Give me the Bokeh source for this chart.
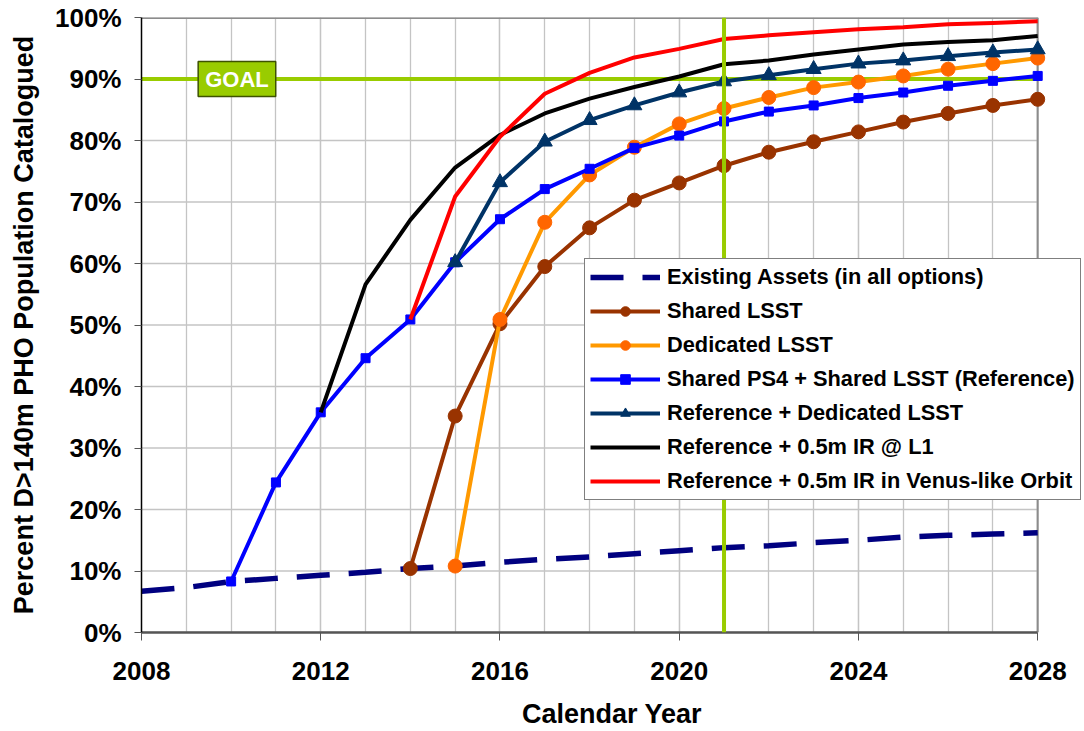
from bokeh.plotting import figure
from bokeh.models import FixedTicker, PrintfTickFormatter, Legend, LegendItem, Label, Span, BasicTickFormatter
from bokeh.embed import file_html
from bokeh.resources import INLINE

# ---------------- data (percent of D>140m PHO population catalogued) ----------------
years_existing = list(range(2008, 2029))
existing_assets = [6.7, 7.3, 8.3, 8.8, 9.3, 9.8, 10.4, 10.8, 11.4, 11.9, 12.3, 12.8,
                   13.3, 13.8, 14.1, 14.6, 15.0, 15.5, 15.8, 16.0, 16.2]

years_shared_lsst = list(range(2014, 2029))
shared_lsst = [10.4, 35.2, 50.2, 59.5, 65.8, 70.3, 73.1, 75.9, 78.1, 79.8, 81.4, 83.0,
               84.4, 85.7, 86.7]

years_dedicated_lsst = list(range(2015, 2029))
dedicated_lsst = [10.8, 50.9, 66.7, 74.4, 78.9, 82.7, 85.2, 87.0, 88.6, 89.5, 90.5,
                  91.6, 92.5, 93.4]

years_reference = list(range(2010, 2029))
reference = [8.3, 24.4, 35.8, 44.6, 50.9, 60.2, 67.2, 72.1, 75.4, 78.8, 80.8, 83.1,
             84.7, 85.7, 86.9, 87.8, 88.9, 89.7, 90.5]

years_ref_dedicated = list(range(2015, 2029))
ref_dedicated = [60.2, 73.2, 79.8, 83.3, 85.7, 87.8, 89.6, 90.6, 91.6, 92.5, 93.0,
                 93.7, 94.3, 94.8]

years_ref_l1 = list(range(2012, 2029))
ref_l1 = [35.8, 56.6, 67.1, 75.6, 80.9, 84.4, 86.8, 88.7, 90.4, 92.4, 93.0, 94.0,
          94.8, 95.6, 96.0, 96.3, 97.0]

years_ref_venus = list(range(2014, 2029))
ref_venus = [50.9, 70.9, 80.6, 87.6, 91.0, 93.5, 94.9, 96.5, 97.1, 97.6, 98.1, 98.4,
             98.9, 99.1, 99.4]

goal_pct = 90
goal_year = 2021
x_start, x_end = 2008, 2028
x_major_ticks = [2008, 2012, 2016, 2020, 2024, 2028]
y_ticks = [0, 10, 20, 30, 40, 50, 60, 70, 80, 90, 100]

labels = ["Existing Assets (in all options)", "Shared LSST", "Dedicated LSST",
          "Shared PS4 + Shared LSST (Reference)", "Reference + Dedicated LSST",
          "Reference + 0.5m IR @ L1", "Reference + 0.5m IR in Venus-like Orbit"]

# ---------------- figure ----------------
FONT = "Liberation Sans"
GREEN = "#99CC00"
GRID = "#C4C4C4"

# frame extends past 2028 so the legend (which overhangs the plot area) is not clipped
p = figure(width=1084, height=731, output_backend="svg", toolbar_location=None,
           x_range=(x_start, x_end + 1.0), y_range=(0, 100),
           min_border_left=141, min_border_right=2, min_border_top=17, min_border_bottom=97)
p.outline_line_color = None
p.background_fill_color = "white"
p.border_fill_color = "white"

# axes
p.xaxis.ticker = FixedTicker(ticks=x_major_ticks, minor_ticks=list(range(x_start, x_end + 1)))
p.xaxis.formatter = BasicTickFormatter(use_scientific=False)
p.xaxis.bounds = (x_start, x_end)
p.yaxis.ticker = FixedTicker(ticks=y_ticks, minor_ticks=[])
p.yaxis.formatter = PrintfTickFormatter(format="%d%%")

for ax in (p.xaxis[0], p.yaxis[0]):
    ax.major_label_text_font = FONT
    ax.major_label_text_font_style = "bold"
    ax.major_label_text_font_size = "26px"
    ax.major_label_text_color = "black"
    ax.axis_label_text_font = FONT
    ax.axis_label_text_font_style = "bold"
    ax.axis_label_text_font_size = "27px"
    ax.axis_label_text_color = "black"
    ax.minor_tick_line_color = None
    ax.major_tick_in = 0

p.xaxis.axis_label = "Calendar Year"
p.xaxis.axis_line_color = "#555555"
p.xaxis.axis_line_width = 2.5
p.xaxis.major_tick_line_color = "#555555"
p.xaxis.major_tick_out = 8
p.xaxis.major_label_standoff = 21
p.xaxis.axis_label_standoff = 16

p.yaxis.axis_label = "Percent D>140m PHO Population Catalogued"
p.yaxis.axis_line_color = "black"
p.yaxis.axis_line_width = 1.5
p.yaxis.major_tick_line_color = "#555555"
p.yaxis.major_tick_out = 7
p.yaxis.major_label_standoff = 13
p.yaxis.axis_label_standoff = 13

# grid: vertical lines every year, horizontal lines every 10% (only up to 2028)
p.xgrid.grid_line_color = GRID
p.xgrid.grid_line_width = 1.3
p.xgrid.minor_grid_line_color = GRID
p.xgrid.minor_grid_line_width = 1.3
p.ygrid.grid_line_color = None
p.segment(x0=[x_start] * len(y_ticks), y0=y_ticks, x1=[x_end] * len(y_ticks), y1=y_ticks,
          line_color=GRID, line_width=1.3)

# plot-area borders (top + right at 2028)
p.segment(x0=[x_start], y0=[100], x1=[x_end], y1=[100], line_color="#8C8C8C", line_width=3)
p.segment(x0=[x_end], y0=[0], x1=[x_end], y1=[100], line_color="#8C8C8C", line_width=2)

# goal lines
p.segment(x0=[x_start], y0=[goal_pct], x1=[x_end], y1=[goal_pct], line_color=GREEN, line_width=4)
p.add_layout(Span(location=goal_year, dimension="height", line_color=GREEN, line_width=4))

# ---------------- series ----------------
items = []

r = p.line(years_existing, existing_assets, line_color="#000080", line_width=5.5, line_dash="33 19")
items.append(LegendItem(label=labels[0], renderers=[r]))

r1 = p.line(years_shared_lsst, shared_lsst, line_color="#993300", line_width=4, line_join="round")
r2 = p.scatter(years_shared_lsst, shared_lsst, marker="circle", size=14, fill_color="#993300", line_color="#993300")
items.append(LegendItem(label=labels[1], renderers=[r1, r2]))

r1 = p.line(years_dedicated_lsst, dedicated_lsst, line_color="#FF9900", line_width=4, line_join="round")
r2 = p.scatter(years_dedicated_lsst, dedicated_lsst, marker="circle", size=14, fill_color="#FF6600", line_color="#FF6600")
items.append(LegendItem(label=labels[2], renderers=[r1, r2]))

r1 = p.line(years_reference, reference, line_color="#0000FF", line_width=4, line_join="round")
r2 = p.scatter(years_reference, reference, marker="square", size=9, fill_color="#0000FF", line_color="#0000FF")
items.append(LegendItem(label=labels[3], renderers=[r1, r2]))

r1 = p.line(years_ref_dedicated, ref_dedicated, line_color="#003366", line_width=4, line_join="round")
r2 = p.scatter(years_ref_dedicated, ref_dedicated, marker="triangle", size=15, fill_color="#003366", line_color="#003366")
items.append(LegendItem(label=labels[4], renderers=[r1, r2]))

r1 = p.line(years_ref_l1, ref_l1, line_color="black", line_width=4, line_join="round")
items.append(LegendItem(label=labels[5], renderers=[r1]))

r1 = p.line(years_ref_venus, ref_venus, line_color="#FF0000", line_width=4, line_join="round")
items.append(LegendItem(label=labels[6], renderers=[r1]))

legend = Legend(items=items, location=(443, 132), margin=0, padding=5, spacing=8,
                glyph_width=70, glyph_height=24, label_height=24, label_standoff=7,
                label_text_font=FONT, label_text_font_style="bold", label_text_font_size="21.8px",
                label_text_color="black",
                border_line_color="black", border_line_width=1,
                background_fill_color="white", background_fill_alpha=1.0)
p.add_layout(legend)

goal_label = Label(x=2010.13, y=goal_pct, text="GOAL", text_align="center", text_baseline="middle",
                   text_color="white", text_font=FONT, text_font_style="bold", text_font_size="22px",
                   background_fill_color=GREEN, border_line_color="#3D5200", border_line_width=1.5,
                   padding=(7, 5))
p.add_layout(goal_label)

open("out.html", "w").write(file_html(p, INLINE))
